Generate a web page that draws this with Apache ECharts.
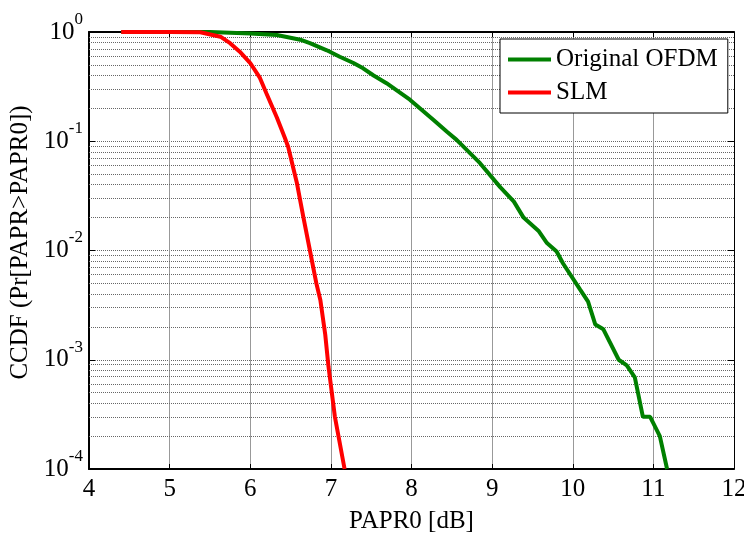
<!DOCTYPE html>
<html>
<head>
<meta charset="utf-8">
<script src="https://cdn.jsdelivr.net/npm/echarts@6/dist/echarts.min.js"></script>
<style>
  html, body { margin: 0; padding: 0; background: #fff; }
  #chart { width: 744px; height: 533px; }
</style>
</head>
<body>
<div id="chart"></div>
<script>
// PAPR0 [dB] values and CCDF
const ofdmX = [4.4, 5.5, 6.0, 6.33, 6.62, 6.74, 6.95, 7.11, 7.28, 7.40, 7.53, 7.69, 7.98, 8.27, 8.44, 8.56, 8.85, 9.10, 9.27, 9.39, 9.58, 9.68, 9.80, 9.88, 10.09, 10.19, 10.28, 10.38, 10.57, 10.67, 10.77, 10.87, 10.96, 11.08, 11.17];
const ofdmY = [1, 1, 0.97, 0.94, 0.85, 0.79, 0.68, 0.594, 0.52, 0.465, 0.40, 0.34, 0.24, 0.157, 0.122, 0.103, 0.063, 0.038, 0.028, 0.020, 0.015, 0.0117, 0.0098, 0.0076, 0.0044, 0.0034, 0.0021, 0.0019, 0.001, 0.00089, 0.00069, 0.0003, 0.0003, 0.0002, 0.0001];

const slmX = [4.4, 5.0, 5.38, 5.63, 5.75, 5.87, 6.0, 6.12, 6.2, 6.33, 6.43, 6.47, 6.58, 6.66, 6.74, 6.82, 6.87, 6.93, 6.97, 7.05, 7.17];
const slmY = [1, 1, 0.995, 0.906, 0.79, 0.66, 0.52, 0.38, 0.275, 0.165, 0.107, 0.089, 0.041, 0.020, 0.01, 0.005, 0.0035, 0.0017, 0.00087, 0.0003, 0.0001];

const seriesNames = ['Original OFDM', 'SLM'];
const seriesColors = ['#008000', '#ff0000'];

const xTicks = [4, 5, 6, 7, 8, 9, 10, 11, 12];
const decades = [0.0001, 0.001, 0.01, 0.1];
const minorSteps = [2, 3, 4, 5, 6, 7, 8, 9];

const font = 'Liberation Serif';

function pairs(xs, ys) {
    return xs.map((x, i) => [x, ys[i]]);
}

// minor log grid lines (2..9 x 10^k)
let minorGrid = [];
decades.forEach(d => {
    minorSteps.forEach(m => {
        minorGrid.push({ yAxis: +(d * m).toPrecision(3) });
    });
});

const gridLine = { color: '#666', width: 1, type: [1, 1] };

const myChart = echarts.init(document.getElementById('chart'));
const option = {
    animation: false,
    backgroundColor: '#fff',
    grid: { left: 89, right: 10, top: 32, bottom: 64, outerBoundsMode: 'none', containLabel: false },
    legend: {
        data: seriesNames,
        orient: 'vertical',
        left: 500,
        top: 39,
        width: 223,
        icon: 'rect',
        itemWidth: 43,
        itemHeight: 4,
        itemGap: 8,
        padding: [8, 10, 8, 8],
        borderColor: '#000',
        borderWidth: 1,
        backgroundColor: '#fff',
        borderRadius: 0,
        textStyle: { fontFamily: font, fontSize: 25, color: '#000', lineHeight: 25 }
    },
    xAxis: [
        {
            type: 'value',
            min: xTicks[0],
            max: xTicks[xTicks.length - 1],
            interval: 1,
            name: 'PAPR0 [dB]',
            nameLocation: 'middle',
            nameGap: 40,
            nameTextStyle: { fontFamily: font, fontSize: 25, color: '#000' },
            axisLine: { lineStyle: { color: '#000', width: 2 } },
            axisTick: { inside: true, length: 5, lineStyle: { color: '#000' } },
            axisLabel: { fontFamily: font, fontSize: 25, color: '#000', margin: 8 },
            splitLine: { show: true, lineStyle: { color: '#999', width: 1 } }
        },
        {
            type: 'value',
            position: 'top',
            min: xTicks[0],
            max: xTicks[xTicks.length - 1],
            interval: 1,
            axisLine: { lineStyle: { color: '#000', width: 2 } },
            axisTick: { inside: true, length: 5, lineStyle: { color: '#000' } },
            axisLabel: { show: false },
            splitLine: { show: false }
        }
    ],
    yAxis: [
        {
            type: 'log',
            logBase: 10,
            min: 0.0001,
            max: 1,
            name: 'CCDF (Pr[PAPR>PAPR0])',
            nameLocation: 'middle',
            nameGap: 56,
            nameTextStyle: { fontFamily: font, fontSize: 25, color: '#000', padding: [0, 0, 0, 16] },
            axisLine: { lineStyle: { color: '#000', width: 2 } },
            axisTick: { inside: true, length: 6, lineStyle: { color: '#000' } },
            axisLabel: {
                margin: 6,
                formatter: v => '{b|10}{s|' + Math.round(Math.log10(v)) + '}',
                rich: {
                    b: { fontFamily: font, fontSize: 25, color: '#000', lineHeight: 42, verticalAlign: 'middle' },
                    s: { fontFamily: font, fontSize: 17, color: '#000', lineHeight: 17, verticalAlign: 'top' }
                }
            },
            splitLine: { show: true, lineStyle: gridLine }
        },
        {
            type: 'log',
            logBase: 10,
            position: 'right',
            min: 0.0001,
            max: 1,
            axisLine: { lineStyle: { color: '#000', width: 1 } },
            axisTick: { inside: true, length: 6, lineStyle: { color: '#000' } },
            axisLabel: { show: false },
            splitLine: { show: false }
        }
    ],
    series: [
        {
            name: seriesNames[0],
            type: 'line',
            data: pairs(ofdmX, ofdmY),
            showSymbol: false,
            symbol: 'none',
            color: seriesColors[0],
            lineStyle: { color: seriesColors[0], width: 4 },
            z: 3,
            markLine: {
                silent: true,
                symbol: 'none',
                precision: 6,
                label: { show: false },
                lineStyle: gridLine,
                data: minorGrid,
                z: 1
            }
        },
        {
            name: seriesNames[1],
            type: 'line',
            data: pairs(slmX, slmY),
            showSymbol: false,
            symbol: 'none',
            color: seriesColors[1],
            lineStyle: { color: seriesColors[1], width: 4 },
            z: 4
        }
    ]
};
myChart.setOption(option, true);
</script>
</body>
</html>
